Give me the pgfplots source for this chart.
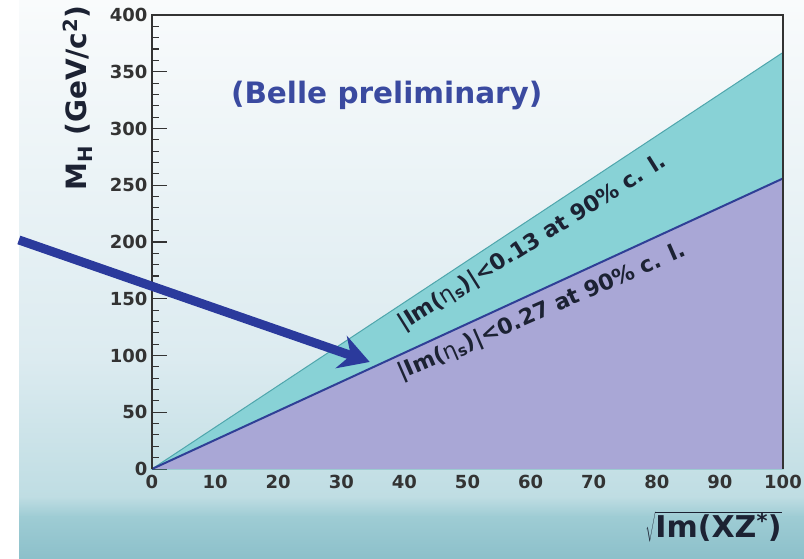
\documentclass[border=0pt]{standalone}
\usepackage{pgfplots}
\pgfplotsset{compat=1.18}
\usepackage{fontspec}
\setmainfont{DejaVu Sans}
\usetikzlibrary{arrows.meta}
\definecolor{tealfill}{HTML}{88D2D6}
\definecolor{tealline}{HTML}{4FA6AC}
\definecolor{purp}{HTML}{A9A7D6}
\definecolor{blueline}{HTML}{2F3F96}
\definecolor{arrowblue}{HTML}{2B3A9C}
\definecolor{belleblue}{HTML}{3A4AA0}
\definecolor{txt}{HTML}{1C2233}
\definecolor{bgA}{HTML}{F9FBFC}
\definecolor{bgB}{HTML}{DCEBF0}
\definecolor{bgC}{HTML}{BFDDE3}
\definecolor{bgD}{HTML}{9ECCD4}
\definecolor{bgE}{HTML}{8CC0CA}
\begin{document}
\begin{tikzpicture}
\useasboundingbox (0,0) rectangle (804pt,559pt);
\fill[white] (0,0) rectangle (804pt,559pt);
\shade[top color=bgA, bottom color=bgB] (19pt,200pt) rectangle (804pt,559pt);
\shade[top color=bgB, bottom color=bgC] (19pt,62pt) rectangle (804pt,200.5pt);
\shade[top color=bgC, bottom color=bgD] (19pt,42pt) rectangle (804pt,62.5pt);
\shade[top color=bgD, bottom color=bgE] (19pt,0pt) rectangle (804pt,42.5pt);
\begin{axis}[
  at={(152pt,90pt)}, anchor=south west,
  width=631pt, height=454pt, scale only axis,
  xmin=0, xmax=100, ymin=0, ymax=400,
  xtick={0,10,...,100}, ytick={0,50,...,400},
  minor y tick num=4,
  tick align=inside, ytick pos=left, xtick pos=bottom,
  major tick length=15pt, minor tick length=7pt,
  xtick style={draw=none},
  ytick style={color=black!80, line width=1.1pt},
  axis line style={draw=none},
  ticklabel style={font=\fontsize{18}{20}\selectfont\bfseries, text=black!80},
  /pgf/number format/assume math mode=true,
  xticklabel style={yshift=-3pt},
  yticklabel style={xshift=-1pt},
  clip=false,
]
\addplot[fill=tealfill, draw=tealline, line width=1pt] coordinates {(0,0) (100,367)} \closedcycle;
\addplot[fill=purp, draw=none] coordinates {(0,0) (100,256)} \closedcycle;
\addplot[draw=blueline, line width=2pt] coordinates {(0,0) (100,256)};
\draw[black!80, line width=1.5pt] (rel axis cs:0,0) -- (rel axis cs:0,1) -- (rel axis cs:1,1) -- (rel axis cs:1,0);
\node[text=belleblue, font=\fontsize{29.5}{31}\selectfont\bfseries] at (axis cs:37.2,329.5) {(Belle preliminary)};
\node[rotate=32, text=txt, font=\fontsize{22}{24}\selectfont\bfseries] at (axis cs:60.3,199) {|Im({\mdseries η}\textsubscript{s})|<0.13 at 90\% c. l.};
\node[rotate=23.5, text=txt, font=\fontsize{22}{24}\selectfont\bfseries] at (axis cs:61.8,138) {|Im({\mdseries η}\textsubscript{s})|<0.27 at 90\% c. l.};
\draw[arrowblue, line width=9pt, -{Stealth[length=30pt,width=34pt,inset=10pt]}] (axis cs:-21.1,201.8) -- (axis cs:34.5,94.3);
\node[rotate=90, text=txt, font=\fontsize{28}{30}\selectfont\bfseries] at (axis cs:-11.8,327) {M\textsubscript{H} (GeV/c\textsuperscript{2})};
\node[text=txt, font=\fontsize{30}{32}\selectfont\bfseries] at (axis cs:89,-51) {$\sqrt{\mbox{\bfseries Im(XZ\textsuperscript{*})}}$};
\end{axis}
\end{tikzpicture}
\end{document}
